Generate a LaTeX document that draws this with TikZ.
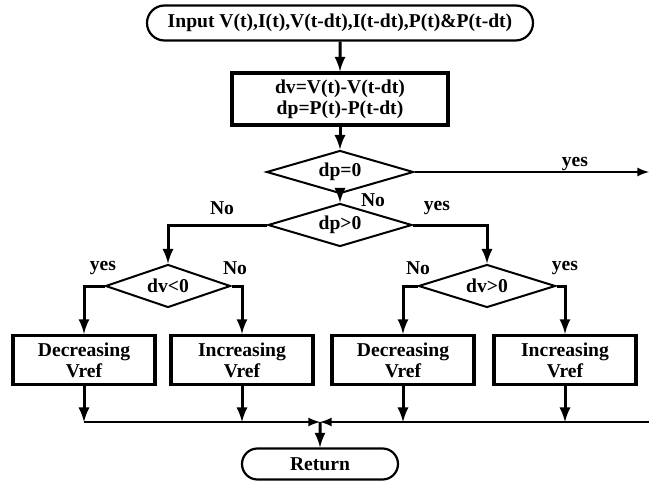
\documentclass[tikz,border=0pt]{standalone}
\usepackage{fontspec}
\setmainfont{Liberation Serif}
\usetikzlibrary{shapes.geometric,shapes.misc}
\tikzset{>=latex}
\tikzset{
  term/.style = {draw,rounded rectangle,line width=1.1pt,minimum width=195pt,minimum height=17.5pt,inner sep=1pt},
  proc/.style = {draw,rectangle,line width=1.6pt,minimum width=71pt,minimum height=24.5pt,align=center,inner sep=1pt},
  test/.style = {draw,diamond,line width=1pt,minimum height=21.5pt,inner sep=0pt,aspect=3.4},
  flow/.style = {->,line width=1.5pt},
  lbl/.style = {inner sep=0pt}
}

\begin{document}
\begin{tikzpicture}[x=0.5pt,y=-0.5pt,font=\bfseries\fontsize{9.8}{10.5}\selectfont]
  \useasboundingbox (0,0) rectangle (649,482);
  % blocks
  \node[term] (in) at (340,23) {Input V(t),I(t),V(t-dt),I(t-dt),P(t)\&P(t-dt)};
  \node[proc,minimum width=108pt,minimum height=26pt] (calc) at (340,99) {dv=V(t)-V(t-dt)\\dp=P(t)-P(t-dt)};
  \node[test,minimum width=73.5pt] (dpz) at (340,172) {dp=0};
  \node[test,minimum width=72pt] (dpp) at (340,225) {dp>0};
  \node[test,minimum width=62.5pt] (dvn) at (168,286) {dv<0};
  \node[test,minimum width=68.5pt] (dvp) at (487,286) {dv>0};
  \node[proc] (dec1) at (84,360) {Decreasing\\Vref};
  \node[proc] (inc1) at (242,360) {Increasing\\Vref};
  \node[proc] (dec2) at (403,360) {Decreasing\\Vref};
  \node[proc] (inc2) at (565,360) {Increasing\\Vref};
  \node[term,minimum width=80pt,minimum height=15.5pt] (ret) at (320,464) {Return};
  \coordinate (out) at (649,172);
  \coordinate (back) at (649,422);
  \coordinate (join) at (320,422);
  % connectors
  \draw[flow] (in) -- (calc);
  \draw[flow] (calc) -- (dpz);
  \draw[flow,line width=1pt] (dpz.east) -- (out);
  \draw[flow] (dpz) -- (dpp);
  \draw[flow] (dpp.west) -| (dvn.north);
  \draw[flow] (dpp.east) -| (dvp.north);
  \draw[flow] (dvn.west) -| (dec1.north);
  \draw[flow] (dvn.east) -| (inc1.north);
  \draw[flow] (dvp.west) -| (dec2.north);
  \draw[flow] (dvp.east) -| (inc2.north);
  \foreach \b in {dec1,inc1,dec2,inc2}
    \draw[flow] (\b.south) -- (\b.south |- join);
  \draw[->,line width=1pt] (dec1.south |- join) -- (join);
  \draw[->,line width=1pt] (back) -- (join);
  \draw[flow] (join) -- (ret);
  % labels
  \node[lbl] (l1) at (575,164) {yes};
  \node[lbl] (l2) at (373,200) {No};
  \node[lbl] (l3) at (222,208) {No};
  \node[lbl] (l4) at (437,208) {yes};
  \node[lbl] (l5) at (103,268) {yes};
  \node[lbl] (l6) at (235,268) {No};
  \node[lbl] (l7) at (418,268) {No};
  \node[lbl] (l8) at (565,268) {yes};
\end{tikzpicture}
\end{document}
